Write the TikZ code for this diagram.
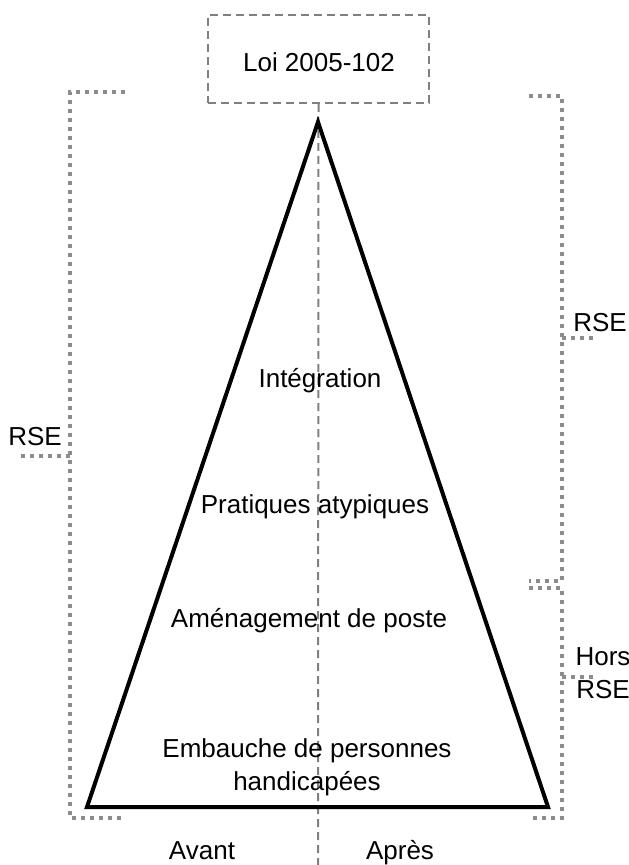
\documentclass[tikz,border=0pt]{standalone}
\usepackage{fontspec}
\setmainfont{Liberation Sans}
\begin{document}
\begin{tikzpicture}[x=0.5pt,y=-0.5pt,
  lbl/.style={font=\fontsize{13}{16.5}\selectfont, inner sep=0pt, align=center},
  dotline/.style={draw=black!45, line width=2pt, dash pattern=on 2pt off 2.5pt},
  dashline/.style={draw=black!50, line width=1pt, dash pattern=on 4pt off 2.5pt},
  tri/.style={draw=black, line width=2pt, line join=miter}]
\useasboundingbox (0,0) rectangle (628,865);
% law box
\node[dashline, minimum width=221*0.5pt, minimum height=88*0.5pt, inner sep=0pt] (loi) at (318.5,59) {};
\node[lbl] (loitxt) at (319,62) {Loi 2005-102};
\coordinate (axisbot) at (318,865);
\draw[dashline] (loi.south) -- (axisbot);
% triangle
\coordinate (apex) at (318,122);
\coordinate (bl) at (87,807);
\coordinate (br) at (548,807);
\draw[tri] (apex) -- (bl) -- (br) -- cycle;
% labels inside
\node[lbl] (integ) at (320,381) {Intégration};
\node[lbl] (prat) at (315,507) {Pratiques atypiques};
\node[lbl] (amen) at (309,621) {Aménagement de poste};
\node[lbl] (emb) at (307,767) {Embauche de personnes\\handicapées};
\node[lbl, anchor=base] (avant) at (202,859) {Avant};
\node[lbl, anchor=base] (apres) at (400,859) {Après};
% left bracket
\coordinate (l1) at (125,92);
\coordinate (l2) at (70,92);
\coordinate (l3) at (70,818);
\coordinate (l4) at (122,818);
\coordinate (lm) at (70,456);
\coordinate (lt) at (17,456);
\draw[dotline] (l1) -- (l2) -- (l3) -- (l4);
\draw[dotline] (lm) -- (lt);
\node[lbl] (rseL) at (35,437) {RSE};
% right upper bracket
\coordinate (r1) at (529,96);
\coordinate (r2) at (562,96);
\coordinate (r3) at (562,581);
\coordinate (r4) at (529,581);
\coordinate (rm) at (562,338);
\coordinate (rt) at (596,338);
\draw[dotline] (r1) -- (r2) -- (r3) -- (r4);
\draw[dotline] (rm) -- (rt);
\node[lbl] (rseR) at (600,323) {RSE};
% right lower bracket
\coordinate (s1) at (529,588);
\coordinate (s2) at (562,588);
\coordinate (s3) at (562,818);
\coordinate (s4) at (529,818);
\coordinate (sm) at (562,677);
\coordinate (st) at (596,677);
\draw[dotline] (s1) -- (s2) -- (s3) -- (s4);
\draw[dotline] (sm) -- (st);
\node[lbl] (hors) at (603,673) {Hors\\RSE};
\end{tikzpicture}
\end{document}
